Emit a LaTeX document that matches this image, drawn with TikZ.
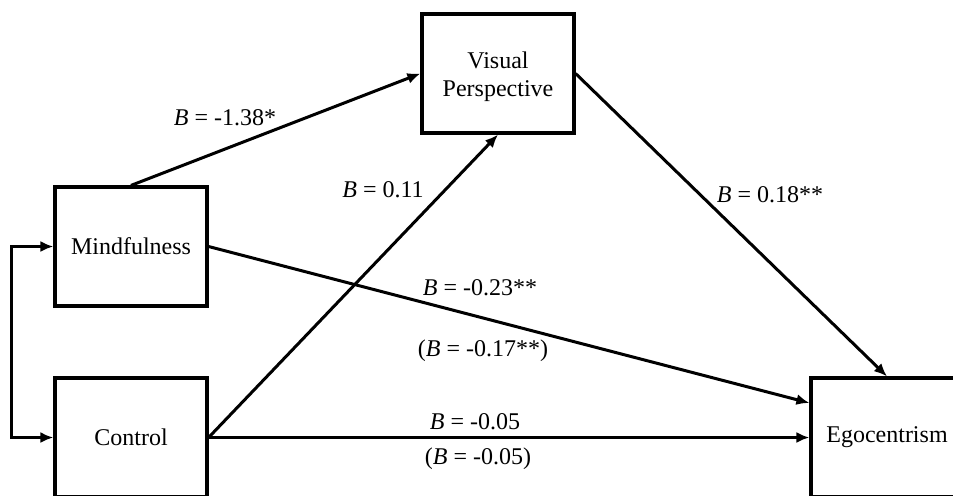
\documentclass[tikz,border=0pt]{standalone}
\usepackage{fontspec}
\usepackage{tikz}
\setmainfont{Liberation Serif}
\usetikzlibrary{arrows.meta}

\begin{document}
\begin{tikzpicture}[x=0.5pt, y=-0.5pt,
    varbox/.style={draw, line width=1.6pt, minimum width=76pt,
      minimum height=59.5pt, inner sep=0pt, align=center,
      font=\fontsize{12}{14}\selectfont},
    tip/.style={-{Latex[length=6.5pt,width=5.5pt]}},
    effect/.style={line width=1.5pt, tip},
    coef/.style={inner sep=1pt, font=\fontsize{12}{14}\selectfont}]
  \useasboundingbox (0,0) rectangle (953,495);
  \clip (0,0) rectangle (953,495);

  % variables
  \node[varbox] (mind) at (131,246.5) {Mindfulness};
  \node[varbox] (ctrl) at (131,437.5) {Control};
  \node[varbox] (vp)   at (498,73.5)  {};
  \node[coef, align=center] (vptext) at (498,77) {Visual\\Perspective};
  \node[varbox] (ego)  at (887,437.5) {Egocentrism};

  % paths
  \draw[line width=1.5pt, {Latex[length=6.5pt,width=5.5pt]}-{Latex[length=6.5pt,width=5.5pt]}]
    (mind.west) -- ++(-42,0) |- (ctrl.west);
  \draw[effect] (mind.north) -- (vp.west);
  \draw[effect] (ctrl.east) -- (vp.south);
  \draw[effect] (vp.east) -- (ego.north);
  \draw[effect] (mind.east) -- (ego.156);
  \draw[effect] (ctrl.east) -- (ego.west);

  % coefficients
  \node[coef] (bmv)  at (225,118) {\textit{B} = -1.38*};
  \node[coef] (bcv)  at (383,190) {\textit{B} = 0.11};
  \node[coef] (bve)  at (770,195) {\textit{B} = 0.18**};
  \node[coef] (bme)  at (480,288) {\textit{B} = -0.23**};
  \node[coef] (bmed) at (483,351) {(\textit{B} = -0.17**)};
  \node[coef] (bce)  at (475,422) {\textit{B} = -0.05};
  \node[coef] (bced) at (478,459) {(\textit{B} = -0.05)};
\end{tikzpicture}
\end{document}
